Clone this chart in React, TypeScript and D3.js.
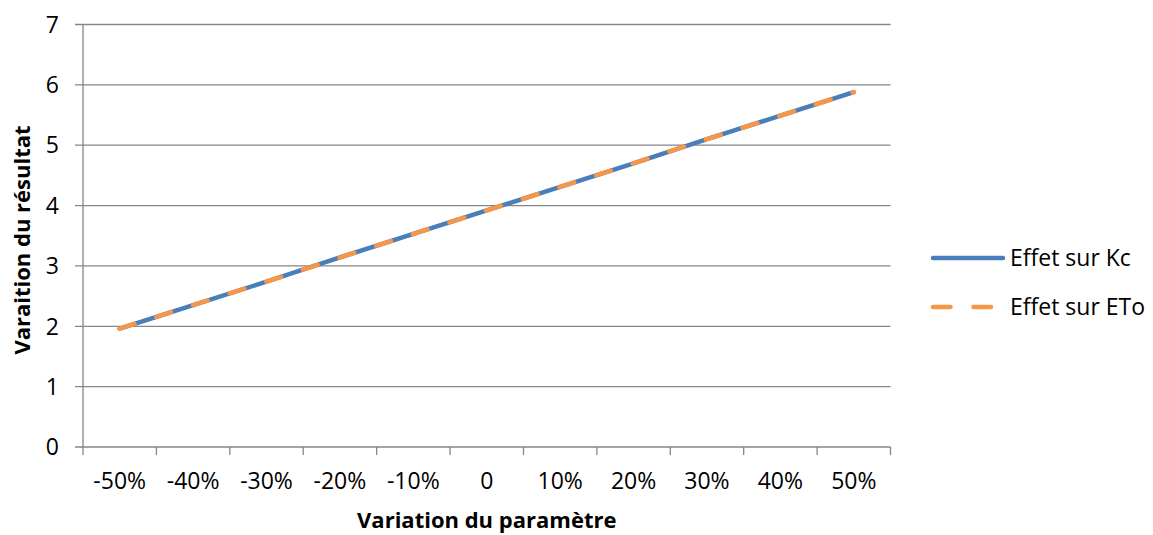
import React from "react";
import * as d3 from "d3";

const categories = ["-50%", "-40%", "-30%", "-20%", "-10%", "0", "10%", "20%", "30%", "40%", "50%"];
const kcValues = [1.96, 2.35, 2.74, 3.14, 3.53, 3.92, 4.31, 4.7, 5.1, 5.49, 5.88];
const etoValues = [1.96, 2.35, 2.74, 3.14, 3.53, 3.92, 4.31, 4.7, 5.1, 5.49, 5.88];
const yTicks = [0, 1, 2, 3, 4, 5, 6, 7];
const seriesNames = ["Effet sur Kc", "Effet sur ETo"];
const xTitle = "Variation du paramètre";
const yTitle = "Varaition du résultat";

const W = 1153;
const H = 535;
const left = 83;
const right = 890.5;
const top = 24.5;
const bottom = 447;
const FONT = "'Open Sans', 'DejaVu Sans', sans-serif";
const BLUE = "#4a7ebb";
const ORANGE = "#f79646";
const GRID = "#868686";

export default function App() {
  const x = d3.scaleBand<string>().domain(categories).range([left, right]).padding(0);
  const y = d3.scaleLinear().domain([0, 7]).range([bottom, top]);
  const cx = (c: string) => (x(c) as number) + x.bandwidth() / 2;
  const line = d3
    .line<number>()
    .x((_, i) => cx(categories[i]))
    .y((d) => y(d));
  const boundaries = categories.map((c) => x(c) as number).concat([right]);

  return (
    <div style={{ position: "absolute", left: 0, top: 0 }}>
      <svg width={W} height={H} style={{ display: "block", background: "#fff" }} fontFamily={FONT}>
        {yTicks.map((t) => (
          <line key={"g" + t} x1={75} x2={right} y1={y(t)} y2={y(t)} stroke={GRID} strokeWidth={1.3} />
        ))}
        <line x1={left} x2={left} y1={top} y2={bottom} stroke={GRID} strokeWidth={1.3} />
        {boundaries.map((b, i) => (
          <line key={"t" + i} x1={b} x2={b} y1={bottom} y2={bottom + 8} stroke={GRID} strokeWidth={1.3} />
        ))}
        {yTicks.map((t) => (
          <text key={"yl" + t} x={59} y={y(t)} dy="0.36em" textAnchor="end" fontSize={23} fill="#000">
            {t}
          </text>
        ))}
        {categories.map((c) => (
          <text key={"xl" + c} x={cx(c)} y={481} dy="0.36em" textAnchor="middle" fontSize={23} fill="#000">
            {c}
          </text>
        ))}
        <text x={(left + right) / 2} y={520} dy="0.36em" textAnchor="middle" fontSize={22} fontWeight="bold" fill="#000">
          {xTitle}
        </text>
        <text
          transform={`translate(22, 240) rotate(-90)`}
          dy="0.36em"
          textAnchor="middle"
          fontSize={22}
          fontWeight="bold"
          fill="#000"
        >
          {yTitle}
        </text>
        <path d={line(kcValues) || ""} fill="none" stroke={BLUE} strokeWidth={4.5} strokeLinecap="round" strokeLinejoin="round" />
        <path
          d={line(etoValues) || ""}
          fill="none"
          stroke={ORANGE}
          strokeWidth={4.5}
          strokeLinecap="round"
          strokeLinejoin="round"
          strokeDasharray="15.5 23"
        />
        <line x1={933} x2={1003} y1={258} y2={258} stroke={BLUE} strokeWidth={4.5} strokeLinecap="round" />
        <text x={1010} y={258} dy="0.36em" fontSize={23} fill="#000">
          {seriesNames[0]}
        </text>
        <line x1={933} x2={1003} y1={307} y2={307} stroke={ORANGE} strokeWidth={4.5} strokeLinecap="round" strokeDasharray="17.5 23" />
        <text x={1010} y={307} dy="0.36em" fontSize={23} fill="#000">
          {seriesNames[1]}
        </text>
      </svg>
    </div>
  );
}
